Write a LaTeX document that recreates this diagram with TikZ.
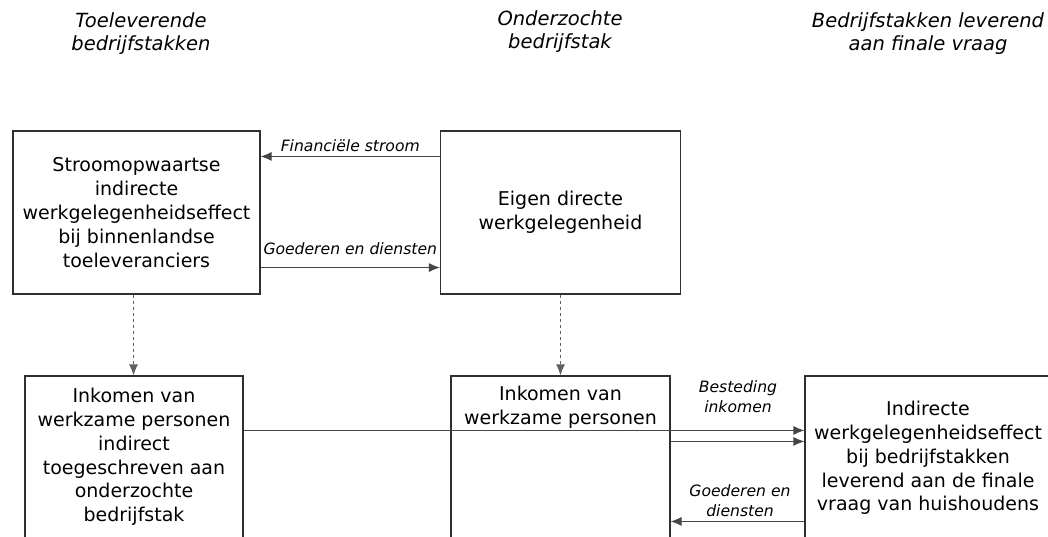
\documentclass[tikz,border=0pt]{standalone}
\usepackage{fontspec}
\setmainfont{DejaVu Sans}
\usetikzlibrary{arrows.meta}
\definecolor{boxline}{HTML}{303030}
\definecolor{arrline}{HTML}{454545}
\definecolor{dashline}{HTML}{606060}
\tikzset{
  x=1pt,y=-1pt,
  boxnode/.style={draw=boxline,line width=1.1pt,rectangle,inner sep=0pt},
  boxtext/.style={align=center,font=\fontsize{19}{23.8}\selectfont,inner sep=0pt},
  headtext/.style={align=center,font=\fontsize{19.5}{23}\selectfont\itshape,inner sep=0pt},
  lbltext/.style={align=center,font=\fontsize{15.6}{20}\selectfont\itshape,inner sep=0pt},
  arr/.style={draw=arrline,line width=1.1pt,-{Latex[length=11pt,width=9pt]}},
  dasharr/.style={draw=dashline,line width=1pt,dash pattern=on 3.5pt off 2.5pt,-{Latex[length=11pt,width=9pt]}}
}
\begin{document}
\begin{tikzpicture}
\useasboundingbox (0,0) rectangle (1048,537);
\clip (0,0) rectangle (1048,537);
% headers
\node[headtext] (h1) at (141,34) {Toeleverende\\bedrijfstakken};
\node[headtext] (h2) at (560,32) {Onderzochte\\bedrijfstak};
\node[headtext] (h3) at (928,34) {Bedrijfstakken leverend\\aan finale vraag};
% top boxes
\node[boxnode,minimum width=247pt,minimum height=163pt] (A) at (136.5,212.5) {};
\node[boxtext] (At) at (136.5,212.5) {Stroomopwaartse\\indirecte\\werkgelegenheidseffect\\bij binnenlandse\\toeleveranciers};
\node[boxnode,minimum width=240pt,minimum height=163pt] (B) at (560.5,212.5) {};
\node[boxtext] (Bt) at (560.5,212.5) {Eigen directe\\werkgelegenheid};
% bottom boxes (cut off at the bottom)
\node[boxnode,minimum width=218pt,minimum height=200pt] (C) at (134,476) {};
\node[boxtext] (Ct) at (134,457) {Inkomen van\\werkzame personen\\indirect\\toegeschreven aan\\onderzochte\\bedrijfstak};
\node[boxnode,minimum width=219pt,minimum height=200pt] (D) at (560.5,476) {};
\node[boxtext] (Dt) at (560.5,407.5) {Inkomen van\\werkzame personen};
\node[boxnode,minimum width=260pt,minimum height=200pt] (E) at (935,476) {};
\node[boxtext] (Et) at (928,458) {Indirecte\\werkgelegenheidseffect\\bij bedrijfstakken\\leverend aan de finale\\vraag van huishoudens};
% top arrows
\draw[arr] ([yshift=-26pt]B.north west) -- ([yshift=-26pt]A.north east) coordinate[midway] (m1);
\node[lbltext,anchor=south] (l1) at ([yshift=5pt]m1) {Financiële stroom};
\draw[arr] ([yshift=27pt]A.south east) -- ([yshift=27pt]B.south west) coordinate[midway] (m2);
\node[lbltext,anchor=south] (l2) at ([yshift=13pt]m2) {Goederen en diensten};
% dashed arrows
\draw[dasharr] ([xshift=-3pt]A.south) -- ([xshift=-3pt]A.south |- C.north);
\draw[dasharr] (B.south) -- (B.south |- D.north);
% bottom arrows
\draw[arr] ([yshift=-55pt]C.north east) -- ([yshift=-55pt]C.north east -| E.west);
\draw[arr] ([yshift=-66pt]D.north east) -- ([yshift=-66pt]D.north east -| E.west);
\node[lbltext] (l3) at (738,397) {Besteding\\inkomen};
\draw[arr] ([yshift=-146pt]E.north west) -- ([yshift=-146pt]E.north west -| D.east);
\node[lbltext] (l4) at (740,500.5) {Goederen en\\diensten};
\end{tikzpicture}
\end{document}
